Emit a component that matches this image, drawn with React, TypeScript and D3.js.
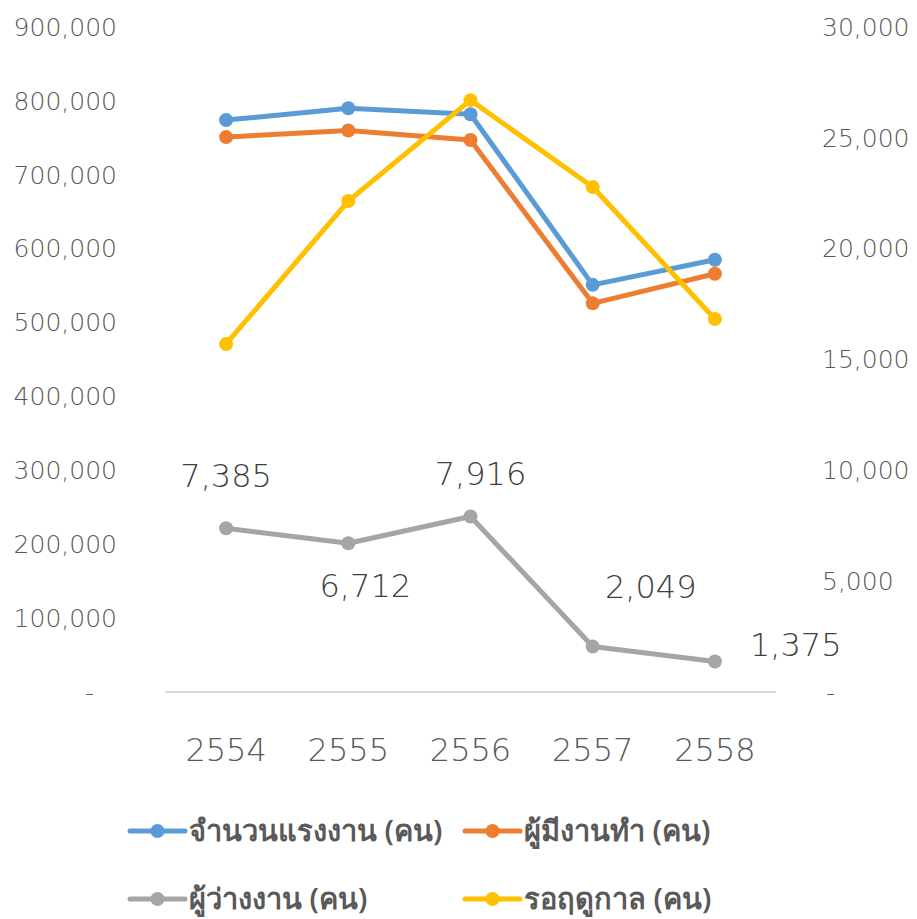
import * as d3 from "d3";
import { useEffect, useRef } from "react";

const years = ["2554", "2555", "2556", "2557", "2558"];
const labourForce = [774000, 790000, 782000, 551000, 585000];
const employed = [751000, 760000, 747000, 526000, 566000];
const unemployed = [7385, 6712, 7916, 2049, 1375];
const seasonal = [15700, 22150, 26700, 22780, 16830];

const leftTicks = [0, 100000, 200000, 300000, 400000, 500000, 600000, 700000, 800000, 900000];
const rightTicks = [0, 5000, 10000, 15000, 20000, 25000, 30000];

const seriesNames = [
  "จำนวนแรงงาน (คน)",
  "ผู้มีงานทำ (คน)",
  "ผู้ว่างงาน (คน)",
  "รอฤดูกาล (คน)",
];
const colors = ["#5b9bd5", "#ed7d31", "#a5a5a5", "#ffc000"];

const W = 917;
const H = 919;
const FONT = "'DejaVu Sans', sans-serif";
const LEGEND_FONT = "'Noto Sans', 'DejaVu Sans', sans-serif";

export default function App() {
  const ref = useRef<SVGSVGElement>(null);

  useEffect(() => {
    if (!ref.current) return;
    const svg = d3.select(ref.current);
    svg.selectAll("*").remove();

    const margin = { top: 27, left: 165, right: 141, bottom: 227 };
    const plotW = W - margin.left - margin.right;
    const plotH = H - margin.top - margin.bottom;

    const x = d3.scaleBand().domain(years).range([margin.left, margin.left + plotW]);
    const yL = d3.scaleLinear().domain([0, 900000]).range([margin.top + plotH, margin.top]);
    const yR = d3.scaleLinear().domain([0, 30000]).range([margin.top + plotH, margin.top]);
    const cx = (d: string) => x(d)! + x.bandwidth() / 2;
    const fmt = d3.format(",");

    // left axis labels
    svg
      .append("g")
      .selectAll("text")
      .data(leftTicks)
      .enter()
      .append("text")
      .attr("x", (d) => (d === 0 ? 94 : 117))
      .attr("y", (d) => yL(d))
      .attr("dy", "0.35em")
      .attr("text-anchor", "end")
      .attr("fill", "#595959")
      .attr("font-size", 25)
      .attr("font-weight", 300)
      .attr("font-family", FONT)
      .text((d) => (d === 0 ? "-" : fmt(d)));

    // right axis labels
    svg
      .append("g")
      .selectAll("text")
      .data(rightTicks)
      .enter()
      .append("text")
      .attr("x", (d) => (d === 0 ? 826 : 822))
      .attr("y", (d) => yR(d))
      .attr("dy", "0.35em")
      .attr("text-anchor", "start")
      .attr("fill", "#595959")
      .attr("font-size", 25)
      .attr("font-weight", 300)
      .attr("font-family", FONT)
      .text((d) => (d === 0 ? "-" : fmt(d)));

    // category axis
    svg
      .append("line")
      .attr("x1", margin.left)
      .attr("x2", margin.left + plotW)
      .attr("y1", yL(0))
      .attr("y2", yL(0))
      .attr("stroke", "#d9d9d9")
      .attr("stroke-width", 2);

    svg
      .append("g")
      .selectAll("text")
      .data(years)
      .enter()
      .append("text")
      .attr("x", cx)
      .attr("y", 750)
      .attr("dy", "0.35em")
      .attr("text-anchor", "middle")
      .attr("fill", "#595959")
      .attr("font-size", 32)
      .attr("font-weight", 300)
      .attr("font-family", FONT)
      .text((d) => d);

    const series = [
      { values: labourForce, scale: yL },
      { values: employed, scale: yL },
      { values: unemployed, scale: yR },
      { values: seasonal, scale: yR },
    ];

    // gray first, then blue, orange, yellow on top
    const order = [2, 0, 1, 3];
    order.forEach((i) => {
      const s = series[i];
      const pts = years.map((yr, j) => [cx(yr), s.scale(s.values[j])] as [number, number]);
      const line = d3.line();
      svg
        .append("path")
        .attr("d", line(pts))
        .attr("fill", "none")
        .attr("stroke", colors[i])
        .attr("stroke-width", 5)
        .attr("stroke-linejoin", "round")
        .attr("stroke-linecap", "round");
      svg
        .append("g")
        .selectAll("circle")
        .data(pts)
        .enter()
        .append("circle")
        .attr("cx", (d) => d[0])
        .attr("cy", (d) => d[1])
        .attr("r", 7)
        .attr("fill", colors[i]);
    });

    // data labels for unemployed
    const labelPos = [
      { dx: 0, dy: -52, anchor: "middle" },
      { dx: 17, dy: 43, anchor: "middle" },
      { dx: 10, dy: -43, anchor: "middle" },
      { dx: 58, dy: -60, anchor: "middle" },
      { dx: 35, dy: -17, anchor: "start" },
    ];
    svg
      .append("g")
      .selectAll("text")
      .data(unemployed)
      .enter()
      .append("text")
      .attr("x", (d, j) => cx(years[j]) + labelPos[j].dx)
      .attr("y", (d, j) => yR(d) + labelPos[j].dy)
      .attr("dy", "0.35em")
      .attr("text-anchor", (d, j) => labelPos[j].anchor)
      .attr("fill", "#404040")
      .attr("font-size", 32)
      .attr("font-weight", 300)
      .attr("font-family", FONT)
      .text((d) => fmt(d));

    // legend
    const legendPos = [
      [130, 831],
      [465, 831],
      [130, 899],
      [465, 899],
    ];
    seriesNames.forEach((name, i) => {
      const [lx, ly] = legendPos[i];
      const g = svg.append("g").attr("transform", `translate(${lx},${ly})`);
      g.append("line")
        .attr("x1", 0)
        .attr("x2", 55)
        .attr("stroke", colors[i])
        .attr("stroke-width", 5)
        .attr("stroke-linecap", "round");
      g.append("circle").attr("cx", 27.5).attr("r", 7).attr("fill", colors[i]);
      g.append("text")
        .attr("x", 59)
        .attr("dy", "0.35em")
        .attr("fill", "#595959")
        .attr("font-size", 29)
        .attr("font-weight", 600)
        .attr("font-family", LEGEND_FONT)
        .text(name);
    });
  }, []);

  return (
    <svg
      ref={ref}
      width={W}
      height={H}
      style={{ position: "absolute", left: 0, top: 0, background: "#fff" }}
    />
  );
}
